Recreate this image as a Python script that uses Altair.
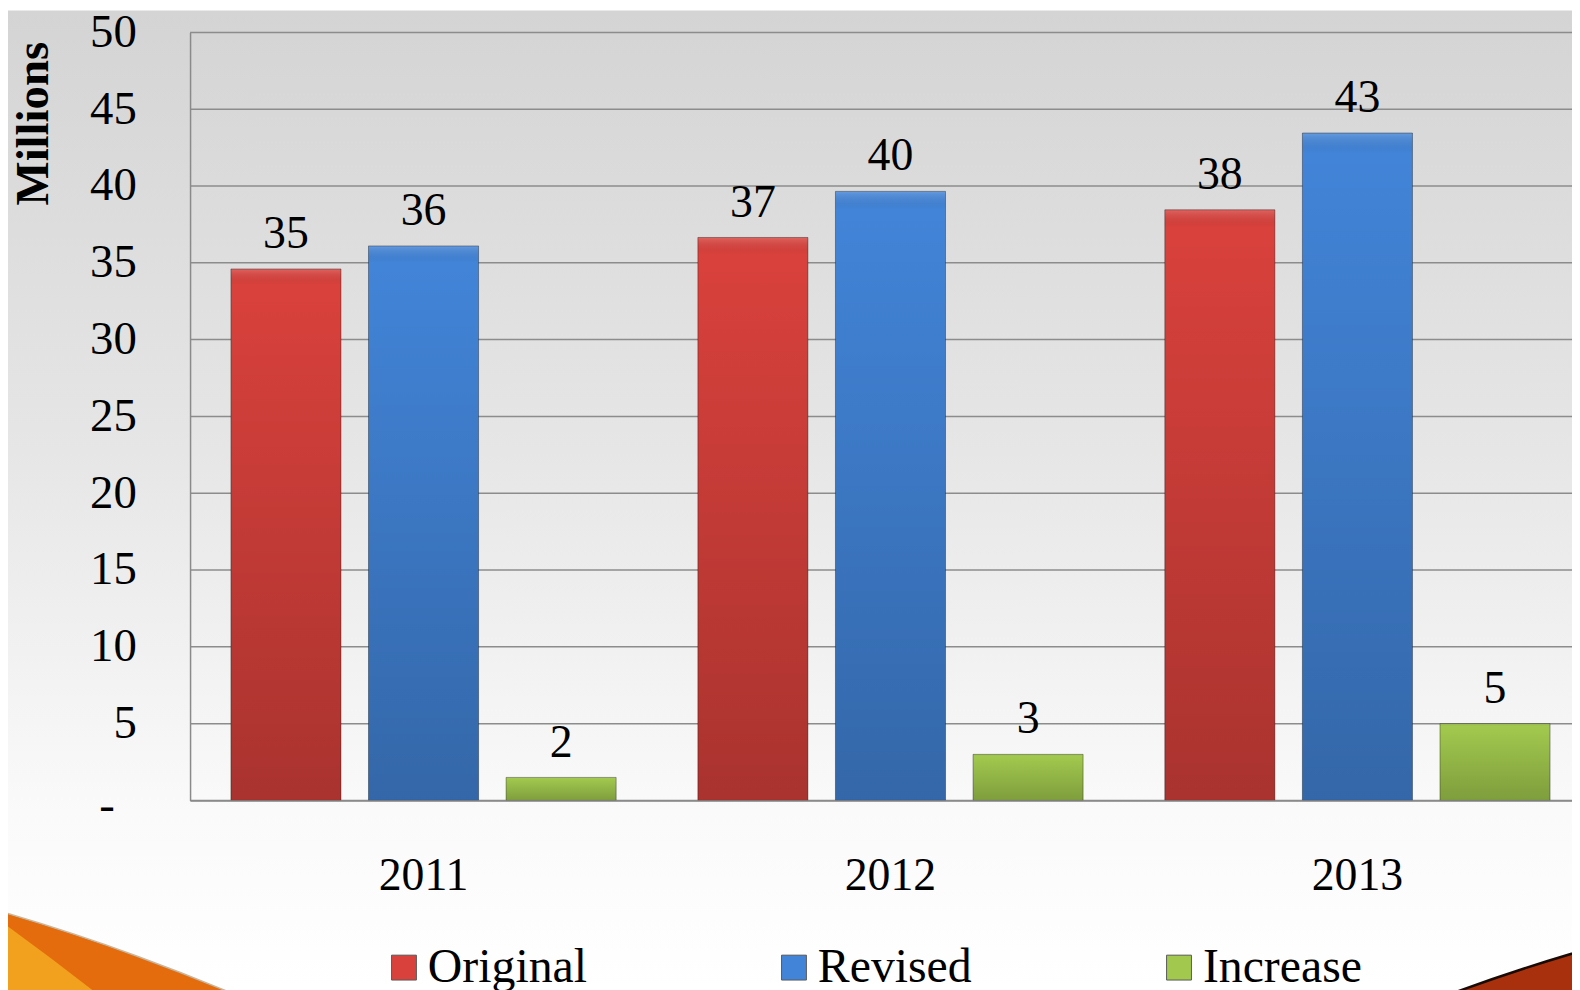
import altair as alt
import pandas as pd

# ---- data ----
years = ["2011", "2012", "2013"]
series = ["Original", "Revised", "Increase"]
original = [34.6, 36.65, 38.45]
revised = [36.1, 39.65, 43.45]
increase = [1.5, 3.0, 5.0]
y_ticks = [0, 5, 10, 15, 20, 25, 30, 35, 40, 45, 50]
colors = ["#d9413c", "#4284d8", "#a2c94e"]

rows = []
for i, yr in enumerate(years):
    for name, vals in zip(series, [original, revised, increase]):
        rows.append({"year": yr, "series": name, "value": vals[i]})
df = pd.DataFrame(rows)
ticks_df = pd.DataFrame({"value": y_ticks})
one = pd.DataFrame({"k": [1]})

FONT = "Liberation Serif"
W, H = 1389, 772
PAD_L, PAD_T, PAD_B = 183, 22, 188

# ---- decoration: slide background ----
bg = alt.Chart(one).mark_rect(
    fill=alt.LinearGradient(
        gradient="linear", x1=0, y1=0, x2=0, y2=1,
        stops=[
            alt.GradientStop(offset=0, color="#d4d4d4"),
            alt.GradientStop(offset=0.45, color="#e6e6e6"),
            alt.GradientStop(offset=0.82, color="#fafafa"),
            alt.GradientStop(offset=1, color="#ffffff"),
        ],
    )
).encode(
    x=alt.value(-PAD_L), x2=alt.value(W), y=alt.value(-PAD_T), y2=alt.value(H + PAD_B)
)

swoosh_orange = alt.Chart(one).mark_arc(
    radius=2157, radius2=0, theta=0.1, theta2=0.6, fill="#e56c0c",
    stroke="#c8b8a0", strokeWidth=1.5
).encode(x=alt.value(-792), y=alt.value(2955))

swoosh_light = alt.Chart(one).mark_arc(
    radius=3000, radius2=0, theta=0.55, theta2=0.75, fill="#f2a11e"
).encode(x=alt.value(-1946), y=alt.value(3326))

swoosh_red = alt.Chart(one).mark_arc(
    radius=2000, radius2=0, theta=5.8, theta2=6.2, fill="#a8300c",
    stroke="#1a0a05", strokeWidth=2.5
).encode(x=alt.value(1959), y=alt.value(2843))

# ---- chart ----
x_enc = alt.X(
    "year:N", sort=years,
    scale=alt.Scale(range=[0, 1408], paddingInner=0.175, paddingOuter=0.0875),
    axis=alt.Axis(
        title=None, labelAngle=0, ticks=False, tickSize=0, labelPadding=53,
        labelFont=FONT, labelFontSize=46, labelColor="black",
        domainColor="#8a8a8a", domainWidth=1.5, grid=False, zindex=1,
    ),
)
xo_enc = alt.XOffset("series:N", sort=series,
                     scale=alt.Scale(paddingInner=0.2, paddingOuter=0))
y_enc = alt.Y(
    "value:Q",
    scale=alt.Scale(domain=[0, 50], nice=False),
    axis=alt.Axis(
        values=y_ticks, grid=False, ticks=False, tickSize=0,
        labelPadding={"condition": {"test": "datum.value == 0", "value": 76}, "value": 54},
        labelOffset={"condition": {"test": "datum.value == 0", "value": 5}, "value": 0},
        labelFont=FONT, labelFontSize=47, labelColor="black",
        labelExpr="datum.value == 0 ? '-' : datum.label",
        title="Millions", titleFont=FONT, titleFontSize=47, titleFontWeight="bold",
        titleColor="black", titleAngle=270, titleX=-143, titleY=9,
        titleAlign="right", titleBaseline="alphabetic",
        domainColor="#8a8a8a", domainWidth=1.5, zindex=1,
    ),
)

grid = alt.Chart(ticks_df).mark_rule(color="#8c8c8c", strokeWidth=1.5).encode(
    y=y_enc, x=alt.value(0), x2=alt.value(W)
)

bars = alt.Chart(df).mark_bar().encode(
    x=x_enc, xOffset=xo_enc, y=y_enc,
    color=alt.Color(
        "series:N", sort=series,
        scale=alt.Scale(domain=series, range=colors),
        legend=alt.Legend(
            orient="none", legendX=191, legendY=916, direction="horizontal",
            columns=3, title=None, symbolType="square", symbolSize=625,
            symbolStrokeColor="#5a5a5a", symbolStrokeWidth=1,
            labelFont=FONT, labelFontSize=48, labelColor="black",
            labelOffset=0, labelLimit=400, columnPadding=184,
            gridAlign="none", padding=0,
        ),
    ),
)

shade = alt.Chart(df).mark_bar(
    fill=alt.LinearGradient(
        gradient="linear", x1=0, y1=0, x2=0, y2=1,
        stops=[
            alt.GradientStop(offset=0, color="rgba(255,255,255,0.18)"),
            alt.GradientStop(offset=0.03, color="rgba(0,0,0,0)"),
            alt.GradientStop(offset=1, color="rgba(0,0,0,0.22)"),
        ],
    ),
    stroke="rgba(0,0,0,0.35)", strokeWidth=1,
).encode(x=x_enc, xOffset=xo_enc, y=y_enc)

labels = alt.Chart(df).mark_text(
    baseline="alphabetic", dy=-21, font=FONT, fontSize=46, color="black"
).encode(
    x=x_enc, xOffset=xo_enc, y=y_enc,
    text=alt.Text("value:Q", format=".0f"),
)

chart = alt.layer(
    bg, swoosh_orange, swoosh_light, swoosh_red, grid, bars, shade, labels
).properties(
    width=W, height=H,
    autosize=alt.AutoSizeParams(type="none"),
    padding={"left": PAD_L, "top": PAD_T, "right": 0, "bottom": PAD_B},
    background="white",
).configure_view(stroke=None)

chart.save("out.html", embed_options={"renderer": "svg", "actions": False})
